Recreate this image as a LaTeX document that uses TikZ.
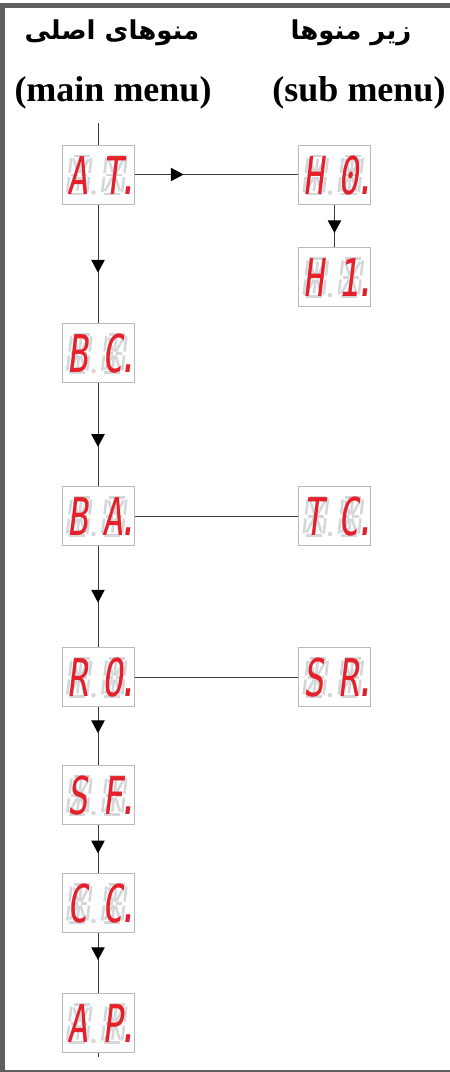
\documentclass[tikz,border=0pt]{standalone}
\usepackage{fontspec}
\usepackage{tikz}
\usetikzlibrary{arrows.meta}
\usetikzlibrary{decorations.markings}
\TeXXeTstate=1
\setmainfont{Liberation Serif}
\newfontfamily\farsifont[Script=Arabic]{DejaVu Sans}
\newfontfamily\segfont[FakeSlant=0.12,FakeStretch=0.66]{DejaVu Sans Mono}
\definecolor{framegray}{RGB}{95,95,95}
\definecolor{linegray}{RGB}{60,60,60}
\definecolor{boxgray}{RGB}{185,185,185}
\definecolor{segred}{RGB}{228,32,42}
\definecolor{seggray}{RGB}{212,215,218}
\tikzset{
  dispbox/.style = {draw = boxgray, fill = white, line width = 0.75pt, minimum width = 54pt, minimum height = 44.25pt, inner sep = 0pt},
  segon/.style = {text = segred, inner sep = 0pt, anchor = base west, font = \segfont\fontsize{39pt}{39pt}\selectfont},
  segoff/.style = {draw = seggray, line width = 1.9pt},
  conn/.style = {draw = linegray, line width = 0.75pt},
  arrowat/.style = {postaction = {decorate}, decoration = {markings, mark = at position #1 with {\arrow[black]{Triangle[width=10pt,length=9.5pt]}}}},
  segbg/.pic = {
    \begin{scope}[xslant = 0.12]
      \draw[segoff] (2,-38) -- (18,-38) (2,0) -- (18,0);
      \draw[segoff] (0,-36) -- (0,-21) (20,-36) -- (20,-21) (0,-17) -- (0,-2) (20,-17) -- (20,-2);
      \draw[segoff] (2,-19) -- (8.5,-19) (11.5,-19) -- (18,-19);
      \draw[segoff] (10,-35) -- (10,-21) (10,-17) -- (10,-3);
      \draw[segoff] (2.5,-35) -- (8.5,-21) (17.5,-35) -- (11.5,-21) (2.5,-3) -- (8.5,-17) (17.5,-3) -- (11.5,-17);
    \end{scope}
  }
}
% one display: name, x, y, first and second character
\newcommand{\dispnode}[5]{%
  \node[dispbox] (#1) at (#2,#3) {};
  \pic at ({#2-31},{#3+19.5}) {segbg};
  \pic at ({#2+4},{#3+19.5}) {segbg};
  \fill[seggray] ({#2-4.5},{#3+18}) circle (1.7pt);
  \node[segon] (#1-a) at ({#2-31},{#3+19.5}) {#4};
  \node[segon] (#1-b) at ({#2+4},{#3+19.5}) {#5\kern-4pt.};
}
\begin{document}
\begin{tikzpicture}[x = 0.75pt, y = -0.75pt]
  \useasboundingbox (0,0) rectangle (450,1072);
  % frame
  \draw[framegray, line width = 3.75pt] (2.5,1071) -- (2.5,5) -- (450,5);
  \draw[framegray, line width = 1.1pt] (0,1071) -- (450,1071);
  % headings
  \node[font = \farsifont\bfseries\fontsize{19.5pt}{22pt}\selectfont] (mainfa) at (112,33) {\beginR منوهای اصلی\endR};
  \node[font = \bfseries\fontsize{27pt}{30pt}\selectfont] (mainen) at (113,93) {(main menu)};
  \node[font = \farsifont\bfseries\fontsize{19.5pt}{22pt}\selectfont] (subfa) at (351,33) {\beginR زیر منوها\endR};
  \node[font = \bfseries\fontsize{27pt}{30pt}\selectfont] (suben) at (359,93) {(sub menu)};
  % main menu
  \dispnode{at}{98}{174.5}{A}{T}
  \dispnode{bc}{98}{353}{B}{C}
  \dispnode{ba}{98}{516}{B}{A}
  \dispnode{ro}{98}{677}{R}{O}
  \dispnode{sf}{98}{795}{S}{F}
  \dispnode{cc}{98}{903}{C}{C}
  \dispnode{ap}{98}{1023}{A}{P}
  % sub menu
  \dispnode{h0}{334.5}{174.5}{H}{0}
  \dispnode{h1}{334.5}{277}{H}{1}
  \dispnode{tc}{334.5}{516}{T}{C}
  \dispnode{sr}{334.5}{677}{S}{R}
  % connectors
  \coordinate (start) at (98,123);
  \coordinate (finish) at (98,1057);
  \draw[conn] (start) -- (at.north);
  \draw[conn, arrowat = 0.575] (at.south) -- (bc.north);
  \draw[conn, arrowat = 0.62] (bc.south) -- (ba.north);
  \draw[conn, arrowat = 0.56] (ba.south) -- (ro.north);
  \draw[conn, arrowat = 0.45] (ro.south) -- (sf.north);
  \draw[conn, arrowat = 0.59] (sf.south) -- (cc.north);
  \draw[conn, arrowat = 0.45] (cc.south) -- (ap.north);
  \draw[conn] (ap.south) -- (finish);
  \draw[conn, arrowat = 0.3] (at.east) -- (h0.west);
  \draw[conn, arrowat = 0.67] (h0.south) -- (h1.north);
  \draw[conn] (ba.east) -- (tc.west);
  \draw[conn] (ro.east) -- (sr.west);
\end{tikzpicture}
\end{document}
